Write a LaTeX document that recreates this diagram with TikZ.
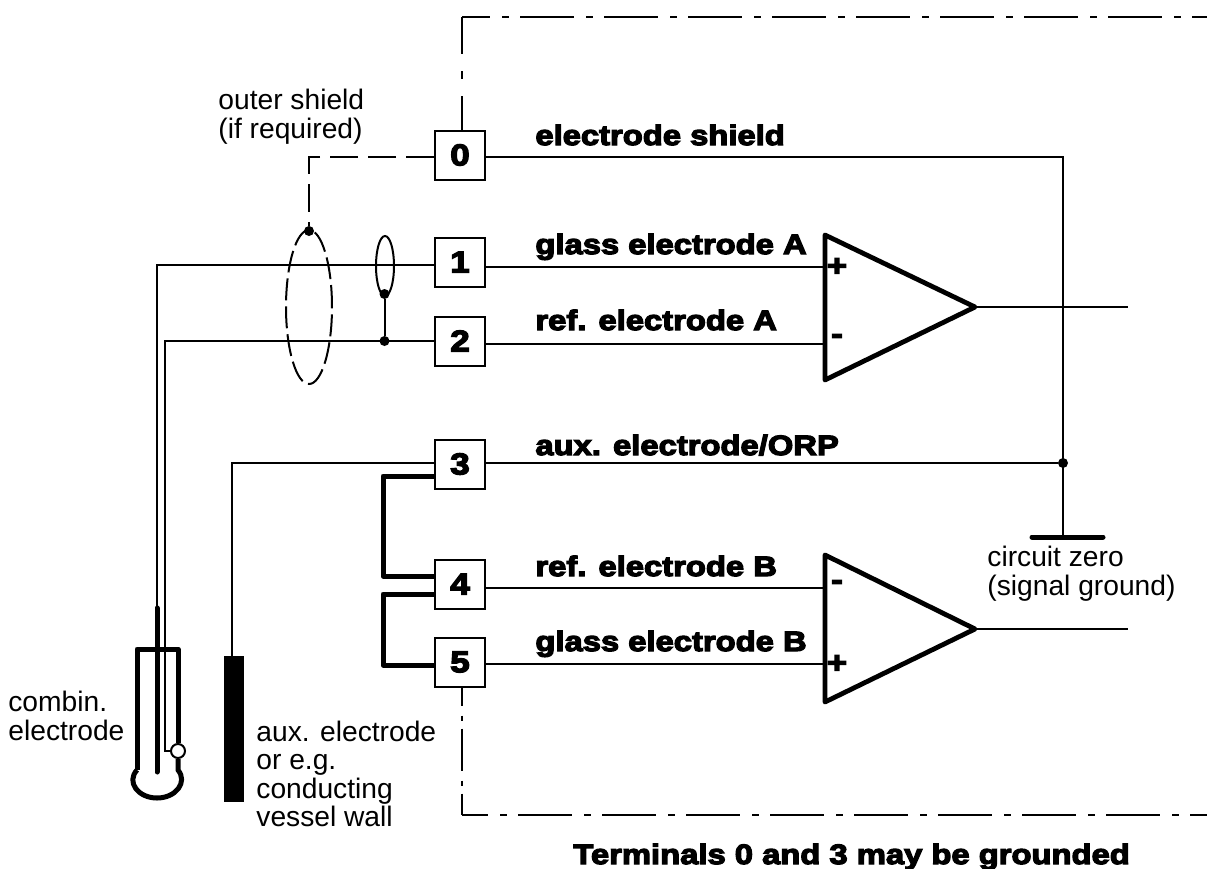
\documentclass[tikz,border=0pt]{standalone}
\usepackage{fontspec}
\usetikzlibrary{shapes.geometric}
\setmainfont{Liberation Sans}
\newfontfamily\heavyfont[UprightFont={* Bold},FakeStretch=1.17,FakeBold=4.5]{Liberation Sans}
\tikzset{
    wire/.style={line width=1pt},
    heavywire/.style={line width=2.5pt, line join=round},
    shieldwire/.style={line width=1.2pt, dash pattern=on 14pt off 5pt},
    boundary/.style={line width=1pt, dash pattern=on 27pt off 6pt on 3.5pt off 5.5pt},
    amp/.style={line width=2.4pt, line join=round},
    terminal/.style={draw, line width=1pt, fill=white, minimum width=25pt, minimum height=24.5pt, inner sep=0pt, font=\heavyfont\fontsize{15}{15}\selectfont},
    label/.style={anchor=base west, inner sep=0pt, font=\heavyfont\fontsize{14}{14}\selectfont},
    note/.style={anchor=west, inner sep=0pt, align=left, font=\fontsize{14.1}{14.3}\selectfont},
    sign/.style={inner sep=0pt, font=\heavyfont\fontsize{15}{15}\selectfont},
    junction/.style={circle, fill=black, inner sep=0pt, minimum size=5pt},
}
\begin{document}
\begin{tikzpicture}[x=0.5pt, y=-0.5pt]
    \useasboundingbox (0, 0) rectangle (1207, 869);
    % terminals
    \node[terminal] (t0) at (460, 155) {0};
    \node[terminal] (t1) at (460, 262) {1};
    \node[terminal] (t2) at (460, 341) {2};
    \node[terminal] (t3) at (460, 464) {3};
    \node[terminal] (t4) at (460, 584) {4};
    \node[terminal] (t5) at (460, 662) {5};
    % amplifiers
    \coordinate (ampAtop) at (825, 235);
    \coordinate (ampAbot) at (825, 380);
    \coordinate (ampAout) at (975, 307);
    \coordinate (ampBtop) at (825, 555);
    \coordinate (ampBbot) at (825, 702);
    \coordinate (ampBout) at (975, 629);
    \draw[amp] (ampAtop) -- (ampAout) -- (ampAbot) -- cycle;
    \draw[amp] (ampBtop) -- (ampBout) -- (ampBbot) -- cycle;
    \node[sign] (plusA) at (837, 267) {+};
    \node[sign] (minusA) at (837, 339) {-};
    \node[sign] (minusB) at (837, 585) {-};
    \node[sign] (plusB) at (837, 664) {+};
    \coordinate (endA) at (1128, 307);
    \coordinate (endB) at (1128, 629);
    \draw[wire] (ampAout) -- (endA);
    \draw[wire] (ampBout) -- (endB);
    % right side wires
    \coordinate (inA1) at (825, 267);
    \coordinate (inA2) at (825, 344);
    \coordinate (inB1) at (825, 588);
    \coordinate (inB2) at (825, 664);
    \coordinate (shieldR) at (1063, 157);
    \coordinate (groundTop) at (1063, 537);
    \coordinate (groundL) at (1032, 537);
    \coordinate (groundR) at (1103, 537);
    \node[junction] (zero) at (1063, 463) {};
    \draw[wire] (t0.east |- shieldR) -- (shieldR) -- (groundTop);
    \draw[wire] (t1.east |- inA1) -- (inA1);
    \draw[wire] (t2.east |- inA2) -- (inA2);
    \draw[wire] (t3.east |- zero) -- (zero);
    \draw[wire] (t4.east |- inB1) -- (inB1);
    \draw[wire] (t5.east |- inB2) -- (inB2);
    \draw[heavywire, line cap=round] (groundL) -- (groundR);
    % links between 3, 4 and 5
    \coordinate (link3) at (383, 476);
    \coordinate (link4a) at (383, 576);
    \coordinate (link4b) at (383, 594);
    \coordinate (link5) at (383, 665);
    \draw[heavywire] (t3.west |- link3) -- (link3) -- (link4a) -- (t4.west |- link4a);
    \draw[heavywire] (t4.west |- link4b) -- (link4b) -- (link5) -- (t5.west |- link5);
    % shields
    \node[draw, ellipse, line width=1pt, dash pattern=on 11pt off 3pt, minimum width=23pt, minimum height=77pt, inner sep=0pt] (outer) at (309, 307) {};
    \node[draw, ellipse, line width=1pt, minimum width=9pt, minimum height=30pt, inner sep=0pt] (inner) at (385, 266) {};
    \node[junction] (outerdot) at (309, 231) {};
    \node[junction] (innerdot) at (384.5, 294) {};
    \node[junction] (refdot) at (384.5, 341) {};
    \coordinate (bendS) at (309, 157);
    \draw[shieldwire] (t0.west |- bendS) -- (bendS) -- (outerdot);
    \draw[wire] (innerdot) -- (refdot);
    % electrode
    \coordinate (cable1) at (157, 265);
    \coordinate (cable2) at (165, 341);
    \coordinate (tubeTL) at (137, 649);
    \coordinate (tubeTR) at (178, 649);
    \coordinate (tubeBL) at (137, 770);
    \coordinate (tubeBR) at (178, 770);
    \coordinate (rodTop) at (157, 608);
    \coordinate (rodBot) at (157, 772);
    \coordinate (refEnd) at (165, 751);
    \node[draw, circle, line width=1pt, fill=white, minimum size=7pt, inner sep=0pt] (refpin) at (178, 751) {};
    \draw[wire] (t1.west |- cable1) -- (cable1) -- (rodTop);
    \draw[wire] (t2.west |- cable2) -- (cable2) -- (refEnd) -- (refpin);
    \draw[line width=2.5pt, line cap=round] (rodTop) -- (rodBot);
    \draw[line width=2.5pt, line join=round] (tubeBL) -- (tubeTL) -- (tubeTR) -- (refpin.north);
    \draw[line width=2.5pt, line join=round] (refpin.south) -- (tubeBR)
        .. controls (188, 782) and (176, 798) .. (157, 798)
        .. controls (138, 798) and (126, 782) .. (tubeBL);
    % aux electrode
    \node[draw, fill=black, minimum width=9.5pt, minimum height=72.5pt, inner sep=0pt] (aux) at (233.5, 728.5) {};
    \coordinate (auxBend) at (232, 463);
    \draw[wire] (t3.west |- auxBend) -- (auxBend) -- (aux.north -| auxBend);
    % boundary
    \coordinate (topBend) at (462, 17);
    \coordinate (topEnd) at (1207, 17);
    \coordinate (botBend) at (462, 815);
    \coordinate (botEnd) at (1207, 815);
    \draw[wire, dash pattern=on 17pt off 8.5pt on 4pt off 8.5pt on 20pt] (t0.north -| topBend) -- (topBend);
    \draw[boundary, dash phase=13pt] (topBend) -- (topEnd);
    \draw[wire, dash pattern=on 9pt off 5pt on 2.5pt off 4pt on 21pt off 5pt on 2.5pt off 4pt on 12pt] (t5.south -| botBend) -- (botBend);
    \draw[boundary, dash phase=14pt] (botBend) -- (botEnd);
    % labels
    \node[label] (l0) at (535, 145) {electrode shield};
    \node[label] (l1) at (535, 254) {glass electrode A};
    \node[label] (l2) at (535, 330) {ref. electrode A};
    \node[label] (l3) at (535, 455) {aux. electrode/ORP};
    \node[label] (l4) at (535, 576) {ref. electrode B};
    \node[label] (l5) at (535, 651) {glass electrode B};
    \node[note] (noteOuter) at (218, 117) {outer shield\\(if required)};
    \node[note] (noteComb) at (8, 716) {combin.\\electrode};
    \node[note] (noteAux) at (256, 774) {aux. electrode\\or e.g.\\conducting\\vessel wall};
    \node[note] (noteZero) at (987, 574) {circuit zero\\(signal ground)};
    \node[label] (noteGround) at (573, 864) {Terminals 0 and 3 may be grounded};
\end{tikzpicture}
\end{document}
